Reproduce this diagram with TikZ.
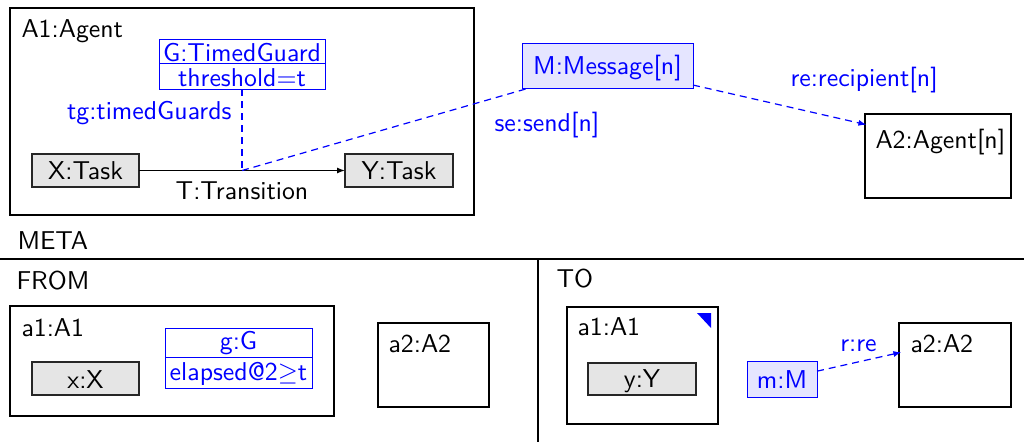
\documentclass[tikz,border=0pt]{standalone}
\usetikzlibrary{arrows.meta}
\begin{document}
\begin{tikzpicture}[x=1pt,y=-1pt,
  font=\fontsize{10}{12}\selectfont\sffamily,
  txt/.style={scale=2.58, transform shape},
  frame/.style={draw=black, line width=2pt, inner sep=0pt, outer sep=0pt},
  taskbox/.style={draw=black!85, line width=1.3pt, fill=black!10, inner sep=0pt, outer sep=0pt},
  guardbox/.style={draw=blue, line width=1pt, inner sep=0pt, outer sep=0pt},
  msgbox/.style={draw=blue, line width=1pt, fill=blue!10, inner sep=0pt, outer sep=0pt},
  lbl/.style={txt, anchor=base west, inner sep=0pt},
  ctxt/.style={txt, anchor=base, inner sep=0pt},
  linklbl/.style={txt, anchor=base west, inner sep=3.33pt},
  link/.style={blue, line width=1.2pt, dash pattern=on 7pt off 5pt},
  tip/.style={-{Latex[length=8pt,width=6pt]}}
]
\useasboundingbox (0,0) rectangle (1024,442);
% ---------- top part ----------
\node[frame, minimum width=464pt, minimum height=207pt] (A1) at (242,111.5) {};
\node[lbl] (A1l) at (21,37) {A1:Agent};
\node[guardbox, minimum width=166pt, minimum height=50pt] (G) at (242,64) {};
\draw[blue, line width=1pt] (G.west |- 0,63) -- (G.east |- 0,63);
\node[ctxt, text=blue] (Gt) at (242,61) {G:TimedGuard};
\node[ctxt, text=blue] (Ga) at (242,86) {threshold=t};
\node[taskbox, minimum width=107pt, minimum height=33pt] (X) at (85.5,170.5) {};
\node[ctxt] (Xt) at (85.5,179) {X:Task};
\node[taskbox, minimum width=108pt, minimum height=33pt] (Y) at (399,170.5) {};
\node[ctxt] (Yt) at (399,179) {Y:Task};
\draw[tip, line width=1.2pt] (X) -- (Y);
\coordinate (T) at (242,170.5);
\node[ctxt] (Tl) at (242,199) {T:Transition};
\draw[link] (G) -- (T);
\node[txt, anchor=base east, inner sep=0pt, text=blue] (tgl) at (232,119) {tg:timedGuards};
\node[msgbox, minimum width=171pt, minimum height=45pt] (M) at (607.5,65.5) {};
\node[ctxt, text=blue] (Mt) at (607.5,74.5) {M:Message[n]};
\draw[link] (T) -- (M);
\node[lbl, text=blue] (sel) at (494,131) {se:send[n]};
\node[frame, minimum width=146pt, minimum height=84pt] (A2) at (938,156) {};
\node[linklbl] (A2l) at (866.4,148) {A2:Agent[n]};
\draw[link, tip] (M) -- (A2l);
\node[lbl, text=blue] (rel) at (790,86) {re:recipient[n]};
% ---------- meta part ----------
\node[lbl] (meta) at (17,249.5) {META};
\coordinate (hl) at (0,258.5);
\coordinate (hr) at (1024,258.5);
\coordinate (vt) at (538,258.5);
\coordinate (vb) at (538,442);
\draw[line width=2pt] (hl) -- (hr);
\draw[line width=1.6pt] (vt) -- (vb);
% FROM
\node[lbl] (from) at (16,289) {FROM};
\node[frame, minimum width=324pt, minimum height=110pt] (fa1) at (172,361) {};
\node[lbl] (fa1l) at (21,336) {a1:A1};
\node[taskbox, minimum width=107pt, minimum height=33pt] (fx) at (85.5,378.5) {};
\node[ctxt] (fxt) at (85.5,388) {x:X};
\node[guardbox, minimum width=147pt, minimum height=60pt] (fg) at (238.5,358) {};
\draw[blue, line width=1pt] (fg.west |- 0,357.5) -- (fg.east |- 0,357.5);
\node[ctxt, text=blue] (fgt) at (238.5,349) {g:G};
\node[ctxt, text=blue] (fga) at (238.5,380) {elapsed@2$\geq$t};
\node[frame, minimum width=111pt, minimum height=84pt] (fa2) at (433.5,365) {};
\node[lbl] (fa2l) at (388,352) {a2:A2};
% TO
\node[lbl] (to) at (556,287) {TO};
\node[frame, minimum width=151pt, minimum height=117pt] (ta1) at (642.5,365.5) {};
\node[lbl] (ta1l) at (577,335) {a1:A1};
\fill[blue] (697,313) -- (711,313) -- (711,328) -- cycle;
\node[taskbox, minimum width=108pt, minimum height=32pt] (ty) at (642,379) {};
\node[ctxt] (tyt) at (642,387) {y:Y};
\node[msgbox, minimum width=70pt, minimum height=36pt] (tm) at (782,379) {};
\node[ctxt, text=blue] (tmt) at (782,388) {m:M};
\node[frame, minimum width=112pt, minimum height=84pt] (ta2) at (955,365) {};
\node[linklbl] (ta2l) at (901.4,352) {a2:A2};
\draw[link, tip] (tm) -- (ta2l);
\node[ctxt, text=blue] (rl) at (858.5,351) {r:re};
\end{tikzpicture}
\end{document}
